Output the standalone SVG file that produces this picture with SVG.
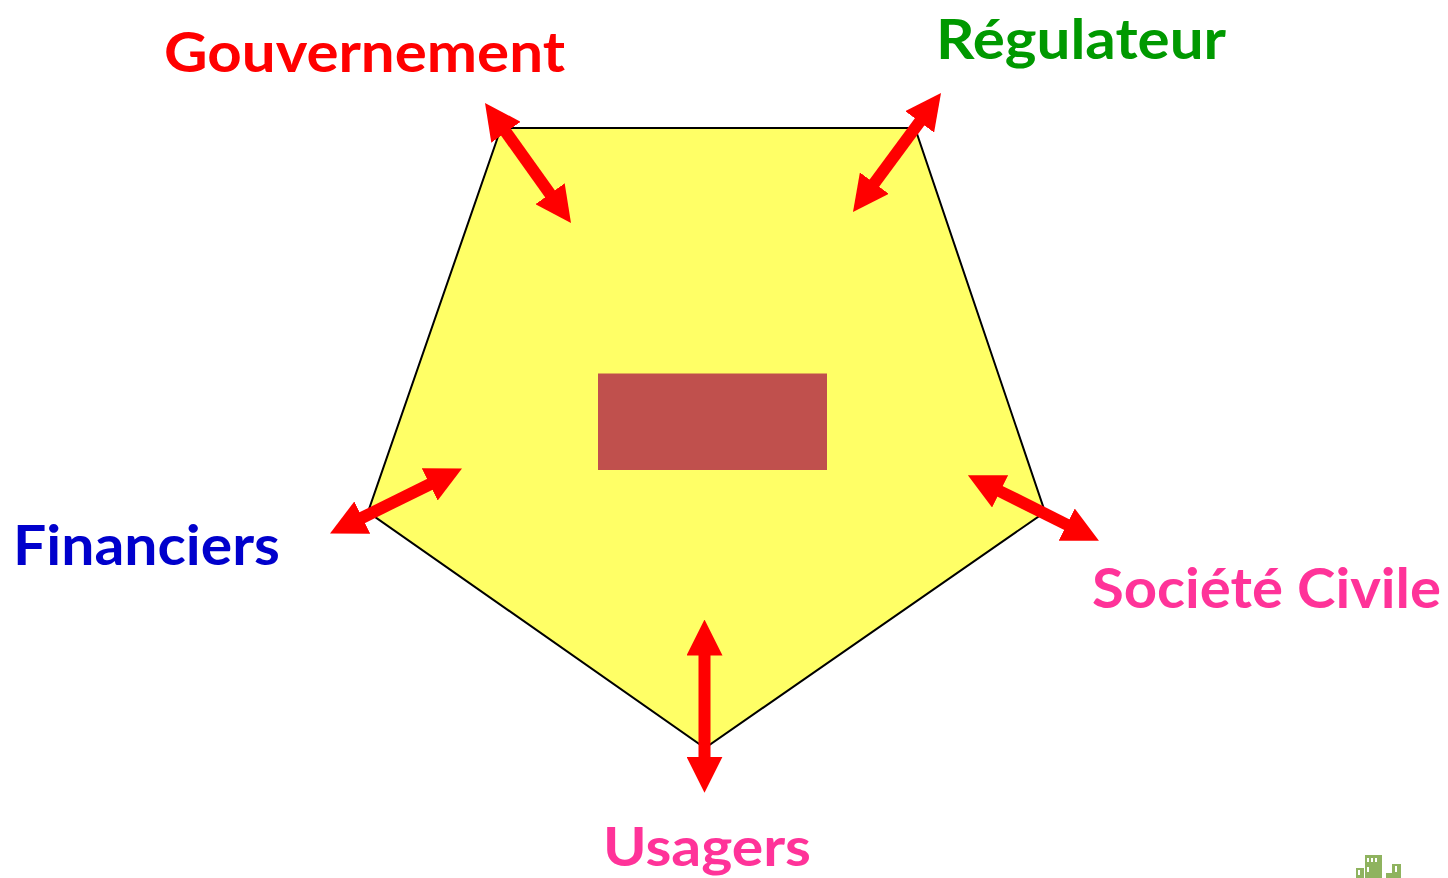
<svg xmlns="http://www.w3.org/2000/svg" width="1448" height="878" viewBox="0 0 1448 878">
<style>
text{font-family:Lato,"Open Sans","Liberation Sans",sans-serif;font-weight:700;font-size:56px}
.arrow{stroke:#FF0000;stroke-width:12;fill:none;marker-start:url(#head);marker-end:url(#head)}
.win{fill:#fff}
</style>
<defs>
<marker id="head" markerUnits="userSpaceOnUse" markerWidth="36" markerHeight="36" viewBox="0 0 36 36" refX="2" refY="18" orient="auto-start-reverse"><path d="M0,0L36,18L0,36Z" fill="#FF0000"/></marker>
</defs>
<g id="pentagon"><polygon points="501,128 915,128 1045,512 705,748 368,512" fill="#FFFF66" stroke="#000" stroke-width="2"/></g>
<g id="centre"><rect x="598" y="373.500" width="229" height="96.500" fill="#C0504D"/></g>
<g id="connectors">
<line class="arrow" x1="504.800" y1="130.600" x2="551.200" y2="195.400"/>
<line class="arrow" x1="920.800" y1="120.300" x2="873.200" y2="184.700"/>
<line class="arrow" x1="360.500" y1="518.500" x2="431.500" y2="483.500"/>
<line class="arrow" x1="998.300" y1="490.500" x2="1068.500" y2="525.500"/>
<line class="arrow" x1="704.500" y1="653.500" x2="704.500" y2="758.700"/>
</g>
<g id="gouvernement"><text x="164" y="72" fill="#FF0000" textLength="401" lengthAdjust="spacingAndGlyphs">Gouvernement</text></g>
<g id="regulateur"><text x="936" y="59" fill="#009900" textLength="290" lengthAdjust="spacingAndGlyphs">Régulateur</text></g>
<g id="financiers"><text x="13" y="565" fill="#0000CC" textLength="267" lengthAdjust="spacingAndGlyphs">Financiers</text></g>
<g id="societe-civile"><text x="1092" y="608" fill="#FF3399" textLength="349" lengthAdjust="spacingAndGlyphs">Société Civile</text></g>
<g id="usagers"><text x="603" y="866" fill="#FF3399" style="font-size:54px" textLength="208" lengthAdjust="spacingAndGlyphs">Usagers</text></g>
<g id="logo" fill="#8FB35F">
<rect x="1356" y="868" width="8" height="10"/>
<rect x="1365" y="855" width="17" height="23"/>
<rect x="1386" y="873" width="7" height="5"/>
<rect x="1392" y="864" width="9" height="14"/>
<rect class="win" x="1358" y="870" width="2" height="5"/>
<rect class="win" x="1367" y="858" width="2" height="4"/>
<rect class="win" x="1371" y="858" width="2" height="4"/>
<rect class="win" x="1375" y="858" width="2" height="4"/>
<rect class="win" x="1367" y="867" width="2" height="5"/>
<rect class="win" x="1395" y="866" width="2" height="6"/>
</g>
</svg>
